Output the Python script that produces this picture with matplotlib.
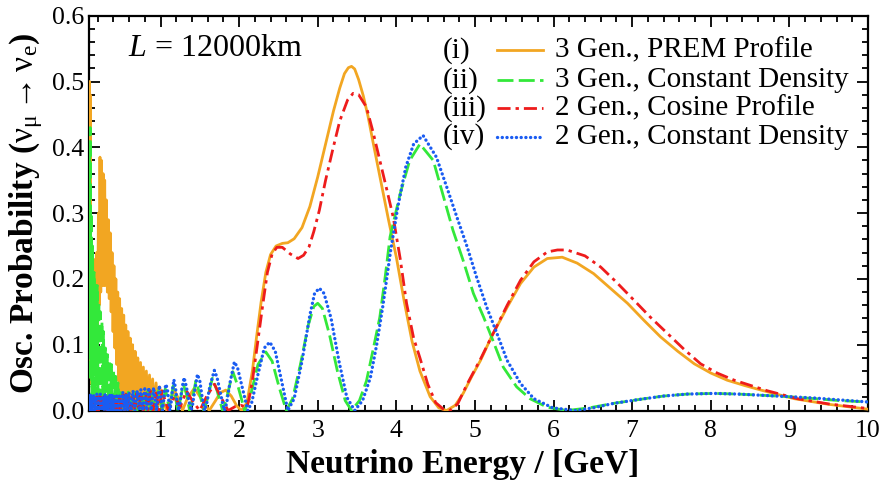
import numpy as np
import matplotlib
matplotlib.use("Agg")
import matplotlib.pyplot as plt
from matplotlib.ticker import MultipleLocator, FormatStrFormatter, FuncFormatter

plt.rcParams['font.family'] = ['Liberation Serif', 'DejaVu Serif']
plt.rcParams['mathtext.fontset'] = 'custom'
plt.rcParams['mathtext.rm'] = 'Liberation Serif'
plt.rcParams['mathtext.it'] = 'Liberation Serif:italic'
plt.rcParams['mathtext.bf'] = 'Liberation Serif:bold'
plt.rcParams['lines.scale_dashes'] = False

# (E [GeV], P)
prem = np.array([
    [0.090, 0.10], [0.095, 0.50], [0.100, 0.20], [0.105, 0.48], [0.110, 0.05],
    [0.118, 0.22], [0.126, 0.04], [0.134, 0.20], [0.142, 0.06], [0.150, 0.23],
    [0.160, 0.08], [0.170, 0.22], [0.180, 0.10], [0.190, 0.24], [0.200, 0.12],
    [0.210, 0.30], [0.220, 0.16], [0.230, 0.385], [0.240, 0.18], [0.250, 0.38],
    [0.260, 0.19], [0.270, 0.36], [0.280, 0.19], [0.290, 0.35], [0.300, 0.19],
    [0.312, 0.32], [0.324, 0.18], [0.336, 0.29], [0.348, 0.17], [0.360, 0.27],
    [0.372, 0.15], [0.384, 0.24], [0.396, 0.12], [0.408, 0.22], [0.420, 0.095],
    [0.432, 0.20], [0.444, 0.07], [0.456, 0.18], [0.468, 0.045], [0.480, 0.17],
    [0.493, 0.03], [0.506, 0.155], [0.519, 0.02], [0.532, 0.145], [0.545, 0.015],
    [0.558, 0.13], [0.572, 0.01], [0.586, 0.12], [0.600, 0.01], [0.615, 0.11],
    [0.630, 0.005], [0.645, 0.10], [0.660, 0.005], [0.677, 0.09], [0.694, 0.005],
    [0.711, 0.08], [0.728, 0.005], [0.746, 0.073], [0.764, 0.005], [0.782, 0.066],
    [0.800, 0.005], [0.820, 0.06], [0.840, 0.005], [0.860, 0.054], [0.880, 0.005],
    [0.900, 0.048], [0.922, 0.005], [0.944, 0.042], [0.966, 0.005], [0.988, 0.036],
    [1.03, 0.015], [1.08, 0.0], [1.13, 0.018], [1.18, 0.030], [1.23, 0.018],
    [1.28, 0.0], [1.34, 0.018], [1.43, 0.034], [1.52, 0.018], [1.62, 0.0],
    [1.70, 0.015], [1.76, 0.027], [1.83, 0.031], [1.90, 0.022], [1.97, 0.007],
    [2.03, 0.0], [2.10, 0.012], [2.17, 0.061], [2.22, 0.11], [2.28, 0.165],
    [2.34, 0.21], [2.40, 0.237], [2.47, 0.250], [2.55, 0.254], [2.62, 0.255],
    [2.70, 0.261], [2.80, 0.278], [2.90, 0.310], [3.00, 0.355], [3.10, 0.405],
    [3.20, 0.455], [3.28, 0.490], [3.34, 0.512], [3.39, 0.521], [3.43, 0.523],
    [3.47, 0.519], [3.52, 0.503], [3.58, 0.478], [3.64, 0.447], [3.70, 0.410],
    [3.80, 0.350], [3.90, 0.290], [4.00, 0.233], [4.10, 0.166], [4.20, 0.105],
    [4.30, 0.060], [4.43, 0.021], [4.54, 0.004], [4.64, 0.0], [4.75, 0.008],
    [4.85, 0.026], [4.96, 0.052], [5.07, 0.076], [5.21, 0.112], [5.41, 0.157],
    [5.58, 0.193], [5.75, 0.218], [5.92, 0.231], [6.11, 0.233], [6.30, 0.224],
    [6.51, 0.208], [6.72, 0.186], [6.94, 0.163], [7.15, 0.137], [7.36, 0.112],
    [7.58, 0.090], [7.79, 0.071], [8.00, 0.057], [8.21, 0.046], [8.43, 0.038],
    [8.64, 0.031], [9.06, 0.018], [9.49, 0.0096], [10.0, 0.002],
])

const3 = np.array([
    [0.090, 0.05], [0.095, 0.40], [0.100, 0.10], [0.105, 0.43], [0.112, 0.05],
    [0.120, 0.30], [0.128, 0.02], [0.136, 0.25], [0.145, 0.03], [0.155, 0.21],
    [0.165, 0.02], [0.175, 0.19], [0.185, 0.02], [0.195, 0.19], [0.205, 0.03],
    [0.215, 0.165], [0.225, 0.02], [0.235, 0.15], [0.245, 0.02], [0.255, 0.135],
    [0.265, 0.02], [0.275, 0.12], [0.287, 0.01], [0.300, 0.095], [0.312, 0.01],
    [0.325, 0.085], [0.338, 0.01], [0.350, 0.075], [0.363, 0.005], [0.376, 0.07],
    [0.389, 0.005], [0.402, 0.062], [0.416, 0.005], [0.430, 0.052], [0.445, 0.005],
    [0.460, 0.042], [0.475, 0.003], [0.490, 0.032], [0.505, 0.003], [0.520, 0.025],
    [0.535, 0.002], [0.550, 0.025], [0.570, 0.002], [0.590, 0.028], [0.610, 0.002],
    [0.630, 0.025], [0.650, 0.0], [0.675, 0.028], [0.700, 0.0], [0.725, 0.025],
    [0.750, 0.0], [0.780, 0.028], [0.810, 0.0], [0.840, 0.030], [0.870, 0.0],
    [0.900, 0.030], [0.935, 0.0], [0.970, 0.030], [1.02, 0.0], [1.04, 0.015],
    [1.06, 0.033], [1.085, 0.020], [1.11, 0.0], [1.13, 0.015], [1.16, 0.037],
    [1.19, 0.020], [1.22, 0.0], [1.25, 0.015], [1.29, 0.040], [1.33, 0.025],
    [1.37, 0.0], [1.40, 0.015], [1.45, 0.045], [1.50, 0.025], [1.55, 0.0],
    [1.59, 0.015], [1.66, 0.049], [1.72, 0.030], [1.79, 0.0], [1.84, 0.018],
    [1.92, 0.059], [1.99, 0.035], [2.07, 0.0], [2.14, 0.020], [2.24, 0.070],
    [2.34, 0.089], [2.42, 0.075], [2.51, 0.035], [2.60, 0.0], [2.68, 0.018],
    [2.78, 0.070], [2.88, 0.130], [2.95, 0.158], [3.00, 0.163], [3.06, 0.155],
    [3.15, 0.115], [3.25, 0.060], [3.35, 0.015], [3.43, 0.0], [3.53, 0.015],
    [3.62, 0.045], [3.70, 0.090], [3.79, 0.142], [3.86, 0.205], [3.92, 0.264],
    [4.05, 0.330], [4.17, 0.380], [4.30, 0.405], [4.47, 0.380], [4.60, 0.325],
    [4.72, 0.274], [4.85, 0.228], [4.98, 0.178], [5.11, 0.142], [5.21, 0.112],
    [5.36, 0.066], [5.53, 0.036], [5.70, 0.018], [5.92, 0.005], [6.17, 0.0],
    [6.45, 0.004], [6.77, 0.011], [7.10, 0.017], [7.40, 0.022], [7.70, 0.025],
    [8.04, 0.026], [8.35, 0.025], [8.68, 0.023], [9.00, 0.021], [9.32, 0.018],
    [9.65, 0.015], [10.0, 0.013],
])

cosine2 = np.array([
    [0.090, 0.0], [0.100, 0.020], [0.110, 0.0], [0.120, 0.018], [0.130, 0.0],
    [0.140, 0.020], [0.150, 0.0], [0.160, 0.018], [0.170, 0.0], [0.180, 0.020],
    [0.190, 0.0], [0.200, 0.020], [0.210, 0.0], [0.225, 0.022], [0.240, 0.0],
    [0.255, 0.020], [0.270, 0.0], [0.285, 0.022], [0.300, 0.0], [0.315, 0.020],
    [0.330, 0.0], [0.345, 0.022], [0.360, 0.0], [0.375, 0.020], [0.390, 0.0],
    [0.405, 0.022], [0.420, 0.0], [0.440, 0.022], [0.460, 0.0], [0.480, 0.024],
    [0.500, 0.0], [0.520, 0.024], [0.540, 0.0], [0.560, 0.025], [0.580, 0.0],
    [0.600, 0.025], [0.625, 0.0], [0.650, 0.026], [0.675, 0.0], [0.700, 0.027],
    [0.725, 0.0], [0.750, 0.028], [0.780, 0.0], [0.810, 0.028], [0.840, 0.0],
    [0.870, 0.030], [0.905, 0.0], [0.940, 0.030], [0.980, 0.0], [1.02, 0.030],
    [1.10, 0.0], [1.18, 0.022], [1.25, 0.005], [1.33, 0.030], [1.42, 0.012],
    [1.50, 0.0], [1.58, 0.020], [1.685, 0.040], [1.77, 0.020], [1.86, 0.0],
    [1.95, 0.006], [2.02, 0.008], [2.10, 0.005], [2.13, 0.020], [2.17, 0.046],
    [2.24, 0.107], [2.30, 0.160], [2.36, 0.210], [2.42, 0.238], [2.48, 0.248],
    [2.55, 0.248], [2.65, 0.238], [2.75, 0.231], [2.82, 0.236], [2.89, 0.249],
    [2.95, 0.272], [3.02, 0.304], [3.10, 0.350], [3.19, 0.396], [3.28, 0.440],
    [3.38, 0.472], [3.45, 0.482], [3.52, 0.480], [3.62, 0.461], [3.70, 0.425],
    [3.79, 0.380], [3.88, 0.335], [3.96, 0.294], [4.05, 0.230], [4.13, 0.163],
    [4.22, 0.110], [4.30, 0.080], [4.40, 0.040], [4.50, 0.012], [4.60, 0.002],
    [4.68, 0.0], [4.78, 0.010], [4.90, 0.040], [5.07, 0.078], [5.21, 0.112],
    [5.41, 0.160], [5.58, 0.198], [5.75, 0.226], [5.92, 0.241], [6.05, 0.244],
    [6.17, 0.244], [6.40, 0.235], [6.60, 0.218], [6.80, 0.195], [7.02, 0.168],
    [7.23, 0.142], [7.45, 0.117], [7.66, 0.093], [7.87, 0.071], [8.08, 0.057],
    [8.30, 0.046], [8.72, 0.030], [9.10, 0.018], [9.50, 0.010], [10.0, 0.003],
])

const2 = np.array([
    [0.090, 0.020], [0.100, 0.0], [0.110, 0.025], [0.120, 0.0], [0.130, 0.022],
    [0.140, 0.0], [0.150, 0.025], [0.160, 0.0], [0.170, 0.020], [0.180, 0.0],
    [0.190, 0.025], [0.200, 0.0], [0.210, 0.022], [0.220, 0.0], [0.235, 0.025],
    [0.250, 0.0], [0.265, 0.022], [0.280, 0.0], [0.295, 0.025], [0.310, 0.0],
    [0.325, 0.022], [0.340, 0.0], [0.355, 0.025], [0.370, 0.0], [0.385, 0.025],
    [0.400, 0.0], [0.415, 0.022], [0.430, 0.0], [0.445, 0.025], [0.460, 0.0],
    [0.480, 0.025], [0.500, 0.0], [0.520, 0.028], [0.540, 0.0], [0.560, 0.025],
    [0.580, 0.0], [0.600, 0.028], [0.625, 0.0], [0.650, 0.030], [0.675, 0.0],
    [0.705, 0.030], [0.730, 0.0], [0.750, 0.032], [0.775, 0.0], [0.800, 0.033],
    [0.825, 0.0], [0.850, 0.035], [0.880, 0.0], [0.913, 0.035], [0.950, 0.0],
    [0.985, 0.038], [1.025, 0.0], [1.04, 0.015], [1.05, 0.030], [1.07, 0.040],
    [1.09, 0.030], [1.105, 0.015], [1.12, 0.0], [1.135, 0.012], [1.15, 0.030],
    [1.17, 0.047], [1.19, 0.035], [1.21, 0.015], [1.23, 0.0], [1.25, 0.012],
    [1.27, 0.032], [1.30, 0.050], [1.33, 0.036], [1.36, 0.015], [1.39, 0.0],
    [1.41, 0.010], [1.435, 0.030], [1.47, 0.055], [1.50, 0.045], [1.53, 0.020],
    [1.56, 0.0], [1.59, 0.012], [1.63, 0.038], [1.685, 0.061], [1.72, 0.050],
    [1.77, 0.022], [1.81, 0.0], [1.84, 0.010], [1.88, 0.040], [1.94, 0.074],
    [1.98, 0.065], [2.05, 0.030], [2.11, 0.0], [2.16, 0.012], [2.24, 0.055],
    [2.32, 0.095], [2.39, 0.104], [2.46, 0.090], [2.54, 0.045], [2.62, 0.0],
    [2.70, 0.018], [2.80, 0.075], [2.90, 0.145], [2.96, 0.178], [3.02, 0.186],
    [3.08, 0.178], [3.17, 0.140], [3.27, 0.075], [3.37, 0.020], [3.47, 0.0],
    [3.57, 0.015], [3.67, 0.050], [3.75, 0.100], [3.83, 0.160], [3.93, 0.245],
    [4.02, 0.310], [4.12, 0.370], [4.22, 0.405], [4.34, 0.418], [4.51, 0.385],
    [4.64, 0.340], [4.77, 0.294], [4.90, 0.249], [5.02, 0.203], [5.15, 0.157],
    [5.28, 0.117], [5.41, 0.076], [5.58, 0.041], [5.75, 0.018], [5.99, 0.004],
    [6.28, 0.0], [6.50, 0.004], [6.77, 0.011], [7.10, 0.017], [7.40, 0.022],
    [7.70, 0.025], [8.04, 0.026], [8.35, 0.025], [8.68, 0.023], [9.00, 0.021],
    [9.32, 0.019], [9.65, 0.016], [10.0, 0.013],
])

numerals = ['(i)', '(ii)', '(iii)', '(iv)']
labels = ['3 Gen., PREM Profile', '3 Gen., Constant Density',
          '2 Gen., Cosine Profile', '2 Gen., Constant Density']
colors = ['#F2A622', '#33E83A', '#EE1C1C', '#1A5CF2']
series = [prem, const3, cosine2, const2]


def style(line, k):
    # orange solid, green long dash, red dash-dot, blue round dots
    if k == 1:
        line.set_dashes((11.5, 3.8))
    elif k == 2:
        line.set_dashes((9.4, 3.6, 2.4, 3.6))
    elif k == 3:
        line.set_linewidth(2.4)
        line.set_dashes((0.1, 3.3))
        line.set_dash_capstyle('round')


fig = plt.figure(figsize=(8.87, 4.86), dpi=100)
ax = fig.add_axes([0.1003, 0.1553, 0.8783, 0.8124])

for k in range(4):
    d = series[k]
    line, = ax.plot(d[:, 0], d[:, 1], color=colors[k], lw=2.0, zorder=3 + k)
    style(line, k)

ax.set_xlim(0.09, 10)
ax.set_ylim(0, 0.6)
ax.xaxis.set_major_locator(MultipleLocator(1))
ax.xaxis.set_minor_locator(MultipleLocator(0.2))
ax.yaxis.set_major_locator(MultipleLocator(0.1))
ax.yaxis.set_minor_locator(MultipleLocator(0.02))
ax.yaxis.set_major_formatter(FormatStrFormatter('%.1f'))
ax.xaxis.set_major_formatter(FuncFormatter(lambda v, p: '%d' % round(v) if v >= 0.5 else ''))
ax.tick_params(which='both', direction='in', top=True, right=True, labelsize=18.5, width=1.3)
ax.tick_params(which='major', length=8)
ax.tick_params(which='minor', length=4)
ax.tick_params(axis='x', pad=7)
for s in ax.spines.values():
    s.set_linewidth(1.6)

ax.set_xlabel('Neutrino Energy / [GeV]', fontsize=24, fontweight='bold')
ax.xaxis.set_label_coords(0.479, -0.098)
ax.set_ylabel(r'Osc. Probability ($\mathrm{\nu_\mu \rightarrow \nu_e}$)',
              fontsize=24, fontweight='bold')
ax.yaxis.set_label_coords(-0.057, 0.5)

ax.text(0.05, 0.918, r'$L$ = 12000km', transform=ax.transAxes, fontsize=23, va='center')

# legend drawn by hand: numeral, line sample, label
row_y = [0.913, 0.836, 0.766, 0.694]
for k in range(4):
    ax.text(0.454, row_y[k], numerals[k], transform=ax.transAxes, fontsize=21, va='center')
    h, = ax.plot([0.524, 0.583], [row_y[k], row_y[k]], transform=ax.transAxes,
                 color=colors[k], lw=2.0, zorder=8)
    style(h, k)
    ax.text(0.598, row_y[k], labels[k], transform=ax.transAxes, fontsize=21, va='center')

fig.savefig('out.png', dpi=100)
